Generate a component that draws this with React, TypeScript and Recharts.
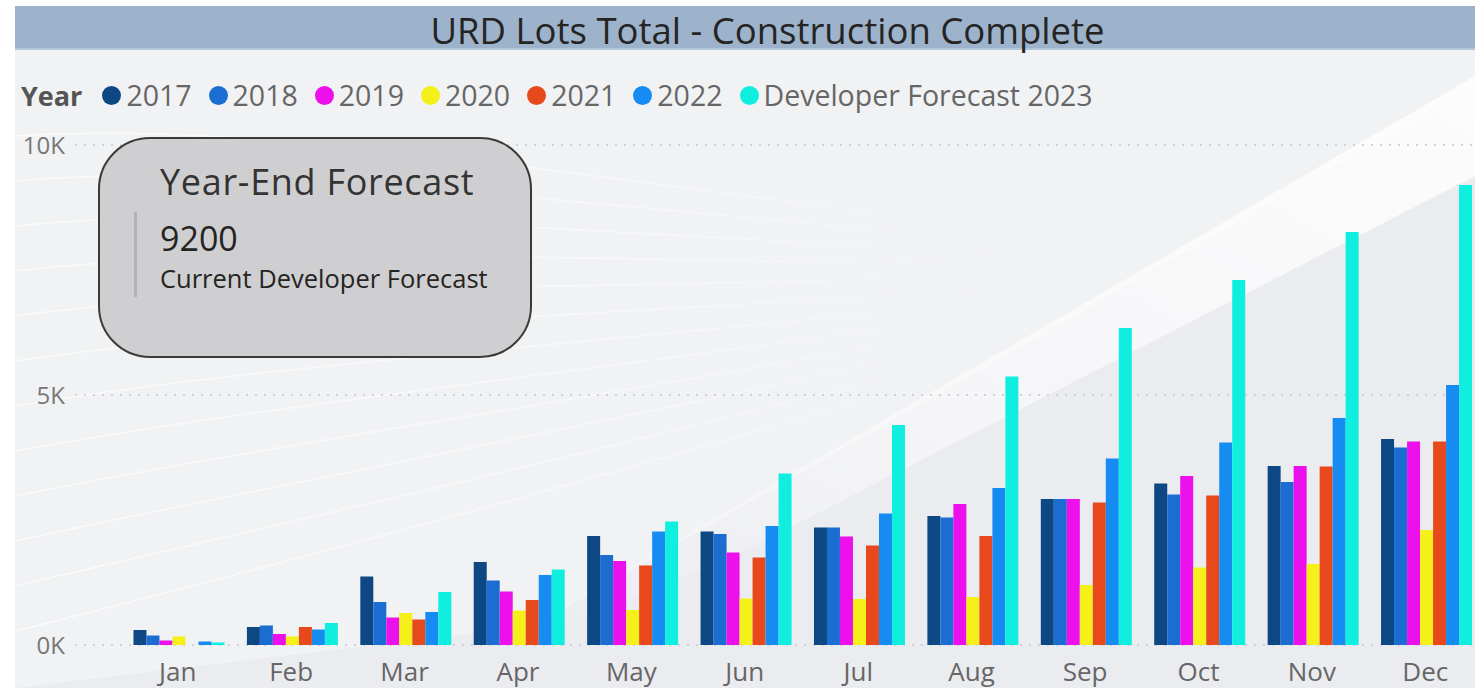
import React from "react"
import { BarChart, Bar, XAxis, YAxis, CartesianGrid } from "recharts"

// values (lots, cumulative by month)
const months = ["Jan", "Feb", "Mar", "Apr", "May", "Jun", "Jul", "Aug", "Sep", "Oct", "Nov", "Dec"]
const y2017 = [300, 360, 1370, 1660, 2180, 2270, 2350, 2580, 2920, 3230, 3580, 4120]
const y2018 = [190, 390, 860, 1290, 1800, 2220, 2350, 2550, 2920, 3010, 3260, 3950]
const y2019 = [90, 220, 550, 1070, 1680, 1850, 2170, 2820, 2920, 3380, 3580, 4070]
const y2020 = [170, 170, 640, 690, 700, 930, 920, 960, 1200, 1550, 1620, 2300]
const y2021 = [0, 360, 510, 900, 1590, 1750, 1990, 2180, 2850, 2990, 3570, 4070]
const y2022 = [70, 310, 660, 1400, 2270, 2380, 2630, 3140, 3730, 4050, 4540, 5200]
const forecast2023 = [50, 440, 1060, 1510, 2470, 3430, 4400, 5370, 6340, 7300, 8260, 9200]
const yTicks = [0, 5000, 10000]

const series = [
  { key: "y2017", name: "2017", values: y2017, color: "#0d4884" },
  { key: "y2018", name: "2018", values: y2018, color: "#1b6dd1" },
  { key: "y2019", name: "2019", values: y2019, color: "#ec10ec" },
  { key: "y2020", name: "2020", values: y2020, color: "#f5f01a" },
  { key: "y2021", name: "2021", values: y2021, color: "#e8491c" },
  { key: "y2022", name: "2022", values: y2022, color: "#168cf2" },
  { key: "f2023", name: "Developer Forecast 2023", values: forecast2023, color: "#10eee0" },
]

const data = months.map((m, i) => {
  const row: Record<string, string | number> = { month: m }
  series.forEach((s) => (row[s.key] = s.values[i]))
  return row
})

const FONT = "'Open Sans', 'Noto Sans', sans-serif"

// faint decorative sweep lines behind the plot
const sweepLines = [0, 1, 2, 3, 4, 5, 6, 7, 8, 9, 10, 11]

function Backdrop() {
  return (
    <svg width={1460} height={682} style={{ position: "absolute", left: 15, top: 6 }}>
      <defs>
        <linearGradient id="band" x1="0" y1="1" x2="1" y2="0">
          <stop offset="0" stopColor="#ffffff" stopOpacity="0" />
          <stop offset="0.45" stopColor="#ffffff" stopOpacity="0.5" />
          <stop offset="1" stopColor="#ffffff" stopOpacity="0.85" />
        </linearGradient>
        <linearGradient id="fade" x1="0" y1="0" x2="1" y2="0">
          <stop offset="0" stopColor="#ffffff" stopOpacity="0.7" />
          <stop offset="0.5" stopColor="#ffffff" stopOpacity="0.45" />
          <stop offset="1" stopColor="#ffffff" stopOpacity="0" />
        </linearGradient>
      </defs>
      <rect width={1460} height={682} fill="#ebecf0" />
      <path d="M 0 42 L 1460 42 L 1460 80 L 520 620 L 0 682 Z" fill="#ffffff" opacity={0.3} />
      {sweepLines.map((i) => (
        <path
          key={i}
          d={`M 0 ${130 + i * 45} C 300 ${110 + i * 40}, 700 ${200 + i * 22}, 1100 ${230 + i * 8}`}
          fill="none"
          stroke="url(#fade)"
          strokeWidth={1.5}
        />
      ))}
      <path d="M 480 640 L 1460 70 L 1460 170 L 700 560 Z" fill="url(#band)" />
    </svg>
  )
}

function LegendRow() {
  return (
    <div style={{ position: "absolute", left: 21, top: 76, display: "flex", alignItems: "center", fontSize: 28.5, color: "#666", whiteSpace: "nowrap" }}>
      <span style={{ fontWeight: 700, color: "#555", fontSize: 27, marginRight: 20 }}>Year</span>
      {series.map((s) => (
        <span key={s.key} style={{ display: "flex", alignItems: "center", marginRight: 17 }}>
          <span style={{ width: 19, height: 19, borderRadius: "50%", background: s.color, marginRight: 5 }} />
          {s.name}
        </span>
      ))}
    </div>
  )
}

function Callout() {
  return (
    <div
      style={{
        position: "absolute",
        left: 98,
        top: 137,
        width: 434,
        height: 221,
        boxSizing: "border-box",
        border: "2px solid #3a3a3a",
        borderRadius: 52,
        background: "#cfcfd1",
        color: "#333",
      }}
    >
      <div style={{ position: "absolute", left: 60, top: 20, fontSize: 36, letterSpacing: 0.7, lineHeight: "46px" }}>Year-End Forecast</div>
      <div style={{ position: "absolute", left: 34, top: 73, width: 3, height: 85, background: "#b2b2b4" }} />
      <div style={{ position: "absolute", left: 60, top: 77, fontSize: 34, fontWeight: 500, lineHeight: "44px", color: "#252423" }}>9200</div>
      <div style={{ position: "absolute", left: 60, top: 122, fontSize: 25.5, lineHeight: "34px", color: "#252423" }}>Current Developer Forecast</div>
    </div>
  )
}

export default function App() {
  return (
    <div style={{ position: "fixed", left: 0, top: 0, width: 1475, height: 688, overflow: "hidden", background: "#fff", fontFamily: FONT }}>
      <Backdrop />
      <div
        style={{
          position: "absolute",
          left: 15,
          top: 6,
          width: 1505,
          height: 42,
          background: "#9db3cb",
          borderBottom: "2px solid #b4c6da",
          textAlign: "center",
          fontSize: 36.5,
          lineHeight: "48px",
          color: "#252423",
        }}
      >
        URD Lots Total - Construction Complete
      </div>
      <LegendRow />
      <div style={{ position: "absolute", left: 0, top: 0 }}>
        <BarChart width={1500} height={688} data={data} margin={{ top: 145, right: 18, bottom: 3, left: 10 }} barCategoryGap="11%" barGap={0}>
          <CartesianGrid vertical={false} stroke="#c3c6cc" strokeWidth={1.5} strokeDasharray="2 7" />
          <XAxis
            dataKey="month"
            axisLine={false}
            tickLine={false}
            tickSize={0}
            tickMargin={18}
            height={40}
            padding={{ left: 46, right: 0 }}
            tick={{ fill: "#666", fontSize: 26, fontFamily: FONT }}
            interval={0}
          />
          <YAxis
            domain={[0, 10000]}
            ticks={yTicks}
            axisLine={false}
            tickLine={false}
            tickSize={0}
            tickMargin={10}
            width={65}
            tickFormatter={(v) => `${v / 1000}K`}
            tick={{ fill: "#777", fontSize: 24, fontFamily: FONT }}
          />
          {series.map((s) => (
            <Bar key={s.key} dataKey={s.key} name={s.name} fill={s.color} isAnimationActive={false} />
          ))}
        </BarChart>
      </div>
      <Callout />
    </div>
  )
}
